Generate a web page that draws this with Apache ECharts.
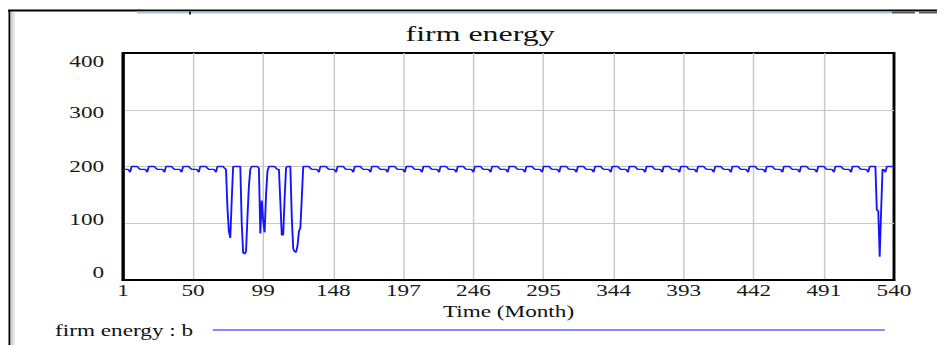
<!DOCTYPE html>
<html><head><meta charset="utf-8">
<script src="https://cdn.jsdelivr.net/npm/echarts@6/dist/echarts.min.js"></script>
<style>
html,body{margin:0;padding:0;background:#fff;overflow:hidden}
#wrap{width:937px;height:345px;overflow:hidden;position:relative}
#c{width:646px;height:345px;transform:scaleX(1.450464);transform-origin:0 0}
</style></head><body><div id="wrap"><div id="c"></div></div>
<script>
// horizontal stretch of the reference picture
const S = 937 / 646;

const seriesName = 'firm energy : b';
const months = Array.from({length: 540}, (_, i) => String(i + 1));
const xTickLabels = ['1','50','99','148','197','246','295','344','393','442','491','540'];
const yTicks = [0, 100, 200, 300, 400];

// firm energy, monthly values (months 1..540)
const firmEnergy = [
  195,195,195,195,194,190,
  200,200,200,200,200,197,195,195,195,195,194,190,
  200,200,200,200,200,197,195,195,195,195,194,190,
  200,200,200,200,200,197,195,195,195,195,194,190,
  200,200,200,200,200,197,195,195,195,195,194,190,
  200,200,200,200,200,197,195,195,195,195,194,190,
  200,200,200,200,200,197,195,128,86,74,140,200,
  200,200,200,200,200,100,48,46,50,110,165,195,
  200,200,200,200,200,197,82,140,105,84,150,192,
  200,200,200,200,200,197,195,195,138,79,80,145,
  198,200,200,200,110,55,50,49,60,86,92,145,
  200,200,200,200,200,197,195,195,195,195,194,190,
  200,200,200,200,200,197,195,195,195,195,194,190,
  200,200,200,200,200,197,195,195,195,195,194,190,
  200,200,200,200,200,197,195,195,195,195,194,190,
  200,200,200,200,200,197,195,195,195,195,194,190,
  200,200,200,200,200,197,195,195,195,195,194,190,
  200,200,200,200,200,197,195,195,195,195,194,190,
  200,200,200,200,200,197,195,195,195,195,194,190,
  200,200,200,200,200,197,195,195,195,195,194,190,
  200,200,200,200,200,197,195,195,195,195,194,190,
  200,200,200,200,200,197,195,195,195,195,194,190,
  200,200,200,200,200,197,195,195,195,195,194,190,
  200,200,200,200,200,197,195,195,195,195,194,190,
  200,200,200,200,200,197,195,195,195,195,194,190,
  200,200,200,200,200,197,195,195,195,195,194,190,
  200,200,200,200,200,197,195,195,195,195,194,190,
  200,200,200,200,200,197,195,195,195,195,194,190,
  200,200,200,200,200,197,195,195,195,195,194,190,
  200,200,200,200,200,197,195,195,195,195,194,190,
  200,200,200,200,200,197,195,195,195,195,194,190,
  200,200,200,200,200,197,195,195,195,195,194,190,
  200,200,200,200,200,197,195,195,195,195,194,190,
  200,200,200,200,200,197,195,195,195,195,194,190,
  200,200,200,200,200,197,195,195,195,195,194,190,
  200,200,200,200,200,197,195,195,195,195,194,190,
  200,200,200,200,200,197,195,195,195,195,194,190,
  200,200,200,200,200,197,195,195,195,195,194,190,
  200,200,200,200,200,197,195,195,195,195,194,190,
  200,200,200,200,200,197,195,195,195,195,194,190,
  200,200,200,200,200,197,195,195,195,195,194,190,
  200,200,200,200,200,197,195,195,195,195,194,190,
  200,200,200,200,200,197,195,195,195,195,194,190,
  200,200,200,200,200,197,195,195,195,195,194,190,
  200,200,200,200,200,123,122,41,122,195,194,190,
  200,200,200,200,200,200
];

const FONT = 'Liberation Serif';
const labelShift = {0: [0,0,16,0], 100: [0,0,8,0], 200: [0,0,0,0], 300: [6,0,0,0], 400: [16,0,0,0]};
const rich = {};
yTicks.forEach(v => { rich['t' + v] = {padding: labelShift[v], fontFamily: FONT, fontSize: 16, color: '#1a1a1a'}; });

const isTick = (idx, val) => xTickLabels.includes(String(val));
const isInnerTick = (idx, val) => isTick(idx, val) && val !== xTickLabels[0] && val !== xTickLabels[xTickLabels.length - 1];

const chart = echarts.init(document.getElementById('c'), null, {renderer: 'svg'});
chart.setOption({
  animation: false,
  backgroundColor: '#fff',
  title: {
    text: 'firm energy', left: 326, top: 18, textAlign: 'center',
    textStyle: {fontFamily: FONT, fontSize: 22, fontWeight: 'normal', color: '#111'}
  },
  grid: {left: 123 / S, right: 646 - 894 / S, top: 53, bottom: 65, show: true, borderColor: '#000', borderWidth: 2, backgroundColor: '#fff'},
  legend: {
    data: [seriesName], left: 55 / S - 5, top: 317, align: 'right', icon: 'rect',
    itemWidth: (885 - 213) / S, itemHeight: 1,
    textStyle: {fontFamily: FONT, fontSize: 16, color: '#111', padding: [0, 8.5, 0, 0]}
  },
  xAxis: {
    type: 'category', data: months, boundaryGap: false,
    name: 'Time (Month)', nameLocation: 'middle', nameGap: 20,
    nameTextStyle: {fontFamily: FONT, fontSize: 16, color: '#111'},
    axisLine: {show: true, lineStyle: {color: '#000', width: 2}},
    axisTick: {show: false},
    axisLabel: {interval: isTick, margin: 2, fontFamily: FONT, fontSize: 16, color: '#1a1a1a', showMinLabel: true, showMaxLabel: true},
    splitLine: {show: true, interval: isInnerTick, lineStyle: {color: '#c8c8c8', width: 1}}
  },
  yAxis: {
    type: 'value', min: 0, max: 400, interval: 100,
    axisLine: {show: true, lineStyle: {color: '#000', width: 2}},
    axisTick: {show: false},
    axisLabel: {margin: 13, formatter: v => '{t' + v + '|' + v + '}', rich: rich},
    splitLine: {show: true, showMinLine: false, showMaxLine: false, lineStyle: {color: '#c8c8c8', width: 1}}
  },
  series: [{
    name: seriesName, type: 'line', data: firmEnergy, showSymbol: false, symbol: 'none',
    color: '#1414ff', itemStyle: {color: '#1414ff'},
    lineStyle: {color: '#1414ff', width: 1.3}, silent: true
  }],
  graphic: [
    {type: 'line', shape: {x1: 8 / S, y1: 10.5, x2: 646, y2: 10.5}, style: {stroke: '#000', lineWidth: 2}, silent: true},
    {type: 'line', shape: {x1: 9.5 / S, y1: 10, x2: 9.5 / S, y2: 345}, style: {stroke: '#000', lineWidth: 2 / S}, silent: true},
    {type: 'rect', shape: {x: 10.5 / S, y: 12, width: 5 / S, height: 333}, style: {fill: new echarts.graphic.LinearGradient(0, 0, 1, 0, [{offset: 0, color: '#c4c4c4'}, {offset: 1, color: '#f6f6f6'}])}, silent: true},
    {type: 'rect', shape: {x: 137 / S, y: 11.5, width: (892 - 137) / S, height: 2}, style: {fill: '#a9c6de'}, silent: true},
    {type: 'rect', shape: {x: 189 / S, y: 11.5, width: 2 / S, height: 3}, style: {fill: '#222'}, silent: true},
    {type: 'rect', shape: {x: 892 / S, y: 12, width: 23 / S, height: 1.5}, style: {fill: '#555'}, silent: true},
    {type: 'rect', shape: {x: 919 / S, y: 12, width: 18 / S, height: 1.5}, style: {fill: '#555'}, silent: true}
  ]
});
</script></body></html>
